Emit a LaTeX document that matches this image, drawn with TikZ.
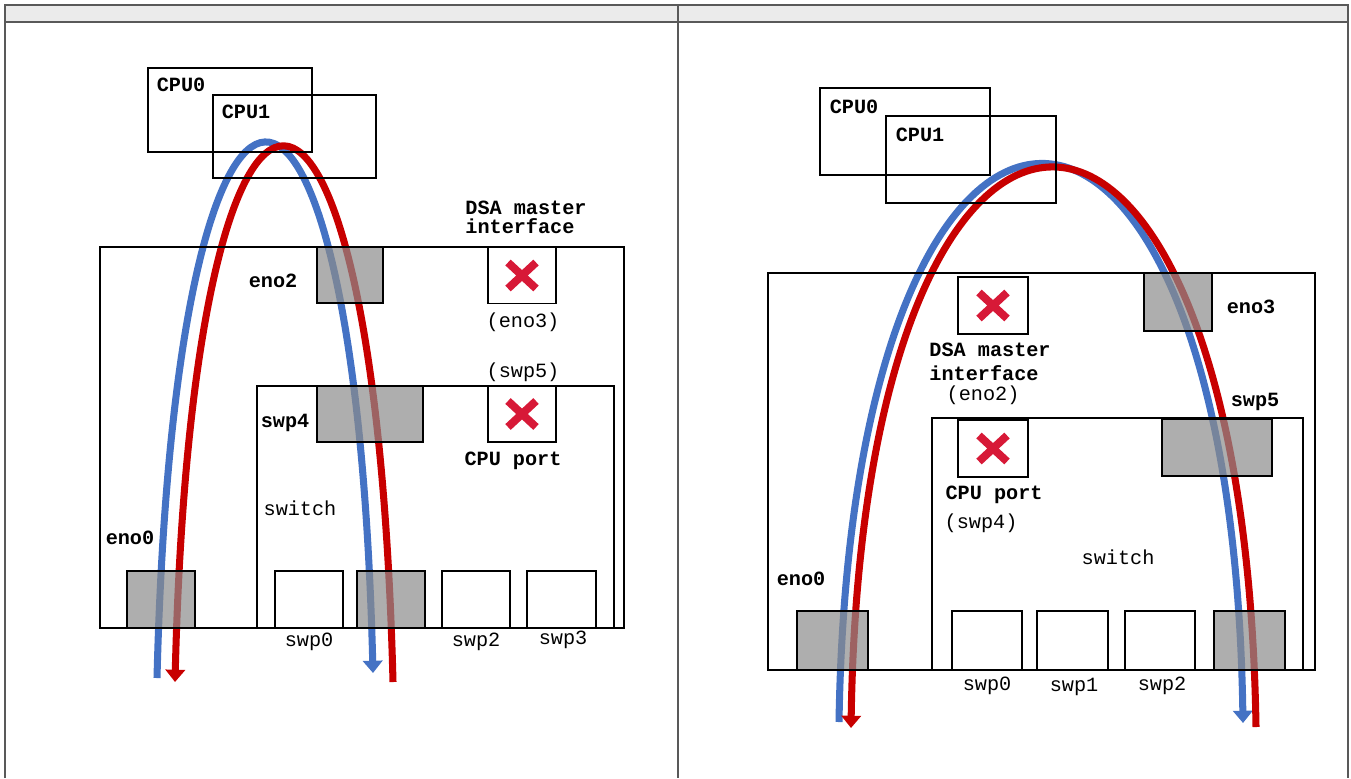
\documentclass[tikz,border=0pt]{standalone}
\usepackage{fontspec}
\setmonofont{Liberation Mono}
\usepackage{tikz}
\usetikzlibrary{arrows.meta,positioning}
\definecolor{pathblue}{RGB}{68,114,196}
\definecolor{pathred}{RGB}{200,0,0}
\definecolor{crossred}{RGB}{215,25,55}
\colorlet{portgray}{black!45}
\colorlet{framegray}{black!65}
\newcommand{\redcross}[1]{%
  \draw[crossred,line width=4.5pt] ([shift={(-14,-13)}]#1.center) -- ([shift={(14,13)}]#1.center);
  \draw[crossred,line width=4.5pt] ([shift={(-14,13)}]#1.center) -- ([shift={(14,-13)}]#1.center);}

\begin{document}
\begin{tikzpicture}[x=0.02cm,y=-0.02cm,
  box/.style 2 args={draw,line width=0.7pt,inner sep=0pt,minimum width=#1,minimum height=#2},
  busy/.style={fill=portgray,fill opacity=0.7},
  lbl/.style={inner sep=0pt,font=\ttfamily\bfseries\fontsize{11.5}{13}\selectfont},
  txt/.style={inner sep=0pt,font=\ttfamily\fontsize{11.5}{13}\selectfont},
  frame/.style={framegray,line width=1.1pt},
  bluepath/.style={pathblue,line width=4pt,-{Triangle[length=7pt,width=11pt]}},
  redpath/.style={pathred,line width=4pt,-{Triangle[length=7pt,width=11pt]}}]
\useasboundingbox (0,0) rectangle (1351,778);
% outer table
\fill[black!8] (5,5) rectangle (1348,22);
\draw[frame] (5,778) -- (5,5) -- (1348,5) -- (1348,778);
\draw[frame] (5,22) -- (1348,22);
\draw[frame] (678,5) -- (678,778);

% ---------- left: traffic through eno2 ----------
\coordinate (Lbs) at (157,678); \coordinate (Lbe) at (373,673);
\coordinate (Lrs) at (393,682); \coordinate (Lre) at (175,682);
\draw[bluepath] (Lbs) .. controls (175,-34) and (355,-34) .. (Lbe);
\draw[redpath] (Lrs) .. controls (375,-31) and (193,-31) .. (Lre);

\node[box={3.28cm}{1.68cm}] (Lcpu0) at (230,110) {};
\node[box={3.26cm}{1.66cm}] (Lcpu1) at (294.5,136.5) {};
\node[lbl,anchor=north west] at ([shift={(9,10)}]Lcpu0.north west) {CPU0};
\node[lbl,anchor=north west] at ([shift={(9,10)}]Lcpu1.north west) {CPU1};
\node[box={10.48cm}{7.62cm}] (Lboard) at (362,437.5) {};
\node[box={1.32cm}{1.12cm},busy] (Leno2) at (350,275) {};
\node[box={1.36cm}{1.12cm}] (Ldsa) at (522,275.5) {};
\redcross{Ldsa}
\node[lbl] at (273,281) {eno2};
\node[lbl,align=left] at (526,217) {DSA master\\[-2pt]interface};
\node[txt] at (523,322) {(eno3)};
\node[txt] at (523,372) {(swp5)};
\node[box={7.14cm}{4.84cm}] (Lswitch) at (435.5,507) {};
\node[box={2.12cm}{1.12cm},busy] (Lswp4) at (370,414) {};
\node[box={1.36cm}{1.12cm}] (Lcpuport) at (522,414) {};
\redcross{Lcpuport}
\node[lbl] at (285,423) {swp4};
\node[lbl] at (513,461) {CPU port};
\node[txt] at (300,508) {switch};
\node[lbl] at (130,538) {eno0};
\node[box={1.36cm}{1.14cm},busy] (Leno0) at (161,599.5) {};
\node[box={1.36cm}{1.14cm}] (Lswp0) at (309,599.5) {};
\node[box={1.36cm}{1.14cm},busy] (Lswp1) at (391,599.5) {};
\node[box={1.36cm}{1.14cm}] (Lswp2) at (476,599.5) {};
\node[box={1.38cm}{1.14cm}] (Lswp3) at (561.5,599.5) {};
\node[txt] at (309,642) {swp0};
\node[txt] at (476,642) {swp2};
\node[txt] at (563,640) {swp3};

% ---------- right: traffic through eno3 ----------
\coordinate (Rbs) at (839,722); \coordinate (Rbe) at (1243,723);
\coordinate (Rrs) at (1256,727); \coordinate (Rre) at (851,728);
\draw[bluepath] (Rbs) .. controls (851,-21) and (1231,-21) .. (Rbe);
\draw[redpath] (Rrs) .. controls (1244,-18) and (863,-18) .. (Rre);

\node[box={3.4cm}{1.74cm}] (Rcpu0) at (905,131.5) {};
\node[box={3.4cm}{1.74cm}] (Rcpu1) at (971,159.5) {};
\node[lbl,anchor=north west] at ([shift={(10,12)}]Rcpu0.north west) {CPU0};
\node[lbl,anchor=north west] at ([shift={(10,12)}]Rcpu1.north west) {CPU1};
\node[box={10.94cm}{7.94cm}] (Rboard) at (1041.5,471.5) {};
\node[box={1.4cm}{1.14cm}] (Rdsa) at (993,305.5) {};
\redcross{Rdsa}
\node[box={1.36cm}{1.16cm},busy] (Reno3) at (1178,302) {};
\node[lbl] at (1251,307) {eno3};
\node[lbl,align=left] at (990,362) {DSA master\\[1pt]interface};
\node[txt] at (983,395) {(eno2)};
\node[lbl] at (1255,402) {swp5};
\node[box={7.42cm}{5.04cm}] (Rswitch) at (1117.5,544) {};
\node[box={2.2cm}{1.14cm},busy] (Rswp5) at (1217,447.5) {};
\node[box={1.4cm}{1.14cm}] (Rcpuport) at (993,448.5) {};
\redcross{Rcpuport}
\node[lbl] at (994,495) {CPU port};
\node[txt] at (981,523) {(swp4)};
\node[txt] at (1118,557) {switch};
\node[lbl] at (801,579) {eno0};
\node[box={1.42cm}{1.18cm},busy] (Reno0) at (832.5,640.5) {};
\node[box={1.4cm}{1.18cm}] (Rswp0) at (987,640.5) {};
\node[box={1.42cm}{1.18cm}] (Rswp1) at (1072.5,640.5) {};
\node[box={1.4cm}{1.18cm}] (Rswp2) at (1160,640.5) {};
\node[box={1.42cm}{1.18cm},busy] (Rswp3) at (1249.5,640.5) {};
\node[txt] at (987,686) {swp0};
\node[txt] at (1074,687) {swp1};
\node[txt] at (1162,686) {swp2};
\end{tikzpicture}
\end{document}
